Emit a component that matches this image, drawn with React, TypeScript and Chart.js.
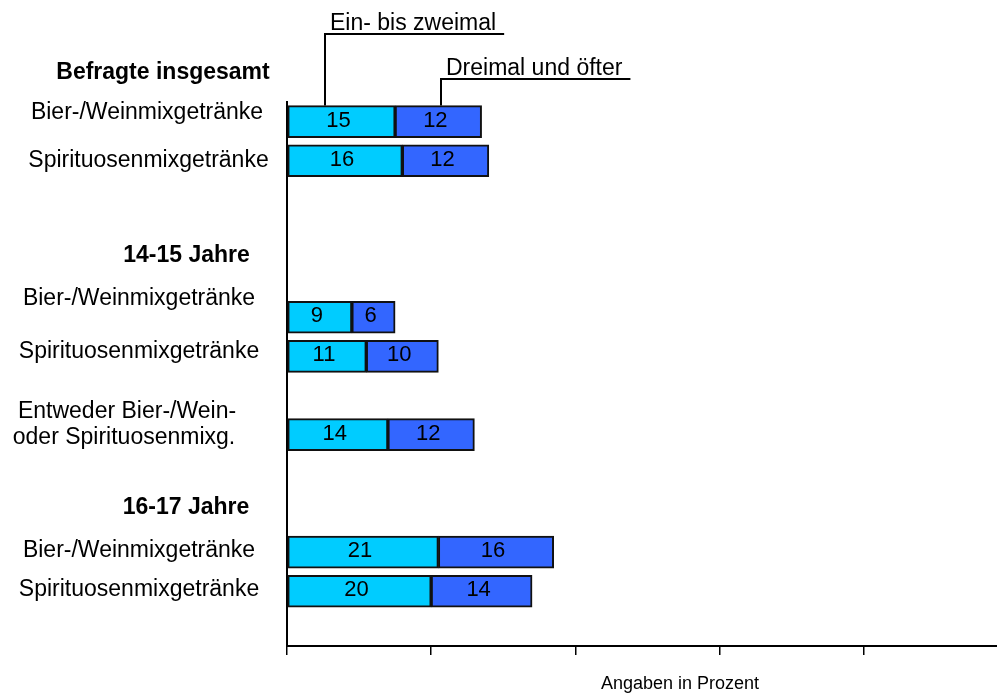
import { useEffect, useRef } from 'react';
import { Chart, registerables } from 'chart.js';

Chart.register(...registerables);

// Survey rows (top to bottom) and their slot on the vertical axis
const categories = [
  'Bier-/Weinmixgetränke',
  'Spirituosenmixgetränke',
  'Bier-/Weinmixgetränke',
  'Spirituosenmixgetränke',
  'Entweder Bier-/Wein-\noder Spirituosenmixg.',
  'Bier-/Weinmixgetränke',
  'Spirituosenmixgetränke',
];
const rowSlots = [0, 1, 5, 6, 8, 11, 12];

// Shares in percent
const onceOrTwice = [15, 16, 9, 11, 14, 21, 20];
const threeOrMore = [12, 12, 6, 10, 12, 16, 14];
const seriesNames = ['Ein- bis zweimal', 'Dreimal und öfter'];

// Group headings and the first row of each group
const groupTitles = ['Befragte insgesamt', '14-15 Jahre', '16-17 Jahre'];
const groupFirstRow = [0, 2, 5];

// Value-axis settings
const xMax = 98.5;
const xStep = 20;
const axisTitle = 'Angaben in Prozent';

// Callout anchors (in percent) for the two series names
const calloutAnchors = [5.3, 21.4];

const FONT = '"Liberation Sans", Arial, sans-serif';
const colors = ['#00CCFF', '#3366FF'];

// Text placement: per line [dx from plot left, dy from row centre]
const rowLabelPlacement: number[][][] = [
  [[-140, -8.6]],
  [[-138.5, 0.3]],
  [[-148, -18.3]],
  [[-148, -4.7]],
  [[-160, -23.4], [-163, 2.8]],
  [[-148, -1.6]],
  [[-148, -1.3]],
];
const groupTitlePlacement = [
  [-124, -49],
  [-100.5, -62],
  [-101, -44.6],
];

const textLayer = {
  id: 'textLayer',
  afterDraw(chart: any) {
    const { ctx, chartArea, scales } = chart;
    const xs = scales.x;
    const ys = scales.y;
    ctx.save();
    ctx.fillStyle = '#000';
    ctx.strokeStyle = '#000';
    ctx.textBaseline = 'middle';

    // Row labels
    ctx.textAlign = 'center';
    ctx.font = `23px ${FONT}`;
    categories.forEach((label, i) => {
      const yc = ys.getPixelForValue(rowSlots[i]);
      label.split('\n').forEach((line, j) => {
        const [dx, dy] = rowLabelPlacement[i][j];
        ctx.fillText(line, chartArea.left + dx, yc + dy);
      });
    });

    // Group headings
    ctx.font = `bold 23px ${FONT}`;
    groupTitles.forEach((title, g) => {
      const yc = ys.getPixelForValue(rowSlots[groupFirstRow[g]]);
      const [dx, dy] = groupTitlePlacement[g];
      ctx.fillText(title, chartArea.left + dx, yc + dy);
    });

    // Values inside the bar segments
    ctx.font = `22px ${FONT}`;
    const values = [onceOrTwice, threeOrMore];
    chart.data.datasets.forEach((_: any, d: number) => {
      const meta = chart.getDatasetMeta(d);
      meta.data.forEach((bar: any, i: number) => {
        const cx = (bar.x + bar.base) / 2;
        ctx.fillText(String(values[d][i]), cx - 3, bar.y - 1);
      });
    });

    // Series callouts with leader lines
    const barTop = ys.getPixelForValue(rowSlots[0]) - 16;
    const calloutRise = [72, 27];
    ctx.font = `23px ${FONT}`;
    ctx.textAlign = 'left';
    ctx.lineWidth = 2;
    seriesNames.forEach((name, s) => {
      const ax = Math.round(xs.getPixelForValue(calloutAnchors[s]));
      const uy = Math.round(barTop - calloutRise[s]);
      const w = ctx.measureText(name).width;
      ctx.beginPath();
      ctx.moveTo(ax, barTop);
      ctx.lineTo(ax, uy);
      ctx.lineTo(ax + w + 13, uy);
      ctx.stroke();
      ctx.fillText(name, ax + 5, uy - 10);
    });

    // Axis caption
    ctx.textAlign = 'center';
    ctx.font = `18px ${FONT}`;
    ctx.fillText(axisTitle, chartArea.left + 393, chartArea.bottom + 38);

    ctx.restore();
  },
};

export default function App() {
  const canvasRef = useRef<HTMLCanvasElement | null>(null);

  useEffect(() => {
    const canvas = canvasRef.current;
    if (!canvas) return;
    const barStyle = {
      borderColor: '#111',
      borderWidth: 2,
      borderSkipped: false as const,
      barThickness: 32,
    };
    const chart = new Chart(canvas, {
      type: 'bar',
      data: {
        datasets: [
          {
            label: seriesNames[0],
            data: rowSlots.map((y, i) => ({ x: onceOrTwice[i], y })),
            backgroundColor: colors[0],
            ...barStyle,
          },
          {
            label: seriesNames[1],
            data: rowSlots.map((y, i) => ({ x: threeOrMore[i], y })),
            backgroundColor: colors[1],
            ...barStyle,
          },
        ],
      },
      options: {
        indexAxis: 'y',
        animation: false,
        responsive: false,
        layout: { padding: { left: 287, top: 102, right: 0, bottom: 38 } },
        plugins: {
          legend: { display: false },
          tooltip: { enabled: false },
        },
        scales: {
          x: {
            type: 'linear',
            stacked: true,
            min: 0,
            max: xMax,
            ticks: { display: false, stepSize: xStep, includeBounds: false },
            grid: {
              display: true,
              drawOnChartArea: false,
              drawTicks: true,
              tickLength: 9,
              color: '#000',
              lineWidth: 1.5,
            },
            border: { display: true, color: '#000', width: 2 },
          },
          y: {
            type: 'linear',
            stacked: true,
            reverse: true,
            offset: false,
            min: -0.5,
            max: 13.4,
            ticks: { display: false },
            grid: { display: false, drawTicks: false, offset: false },
            border: { display: true, color: '#000', width: 2 },
          },
        },
      } as any,
      plugins: [textLayer],
    });
    return () => chart.destroy();
  }, []);

  return (
    <div
      style={{
        position: 'fixed',
        left: 0,
        top: 0,
        width: 997,
        height: 693,
        background: '#fff',
      }}
    >
      <canvas ref={canvasRef} width={997} height={693} style={{ display: 'block' }} />
    </div>
  );
}
